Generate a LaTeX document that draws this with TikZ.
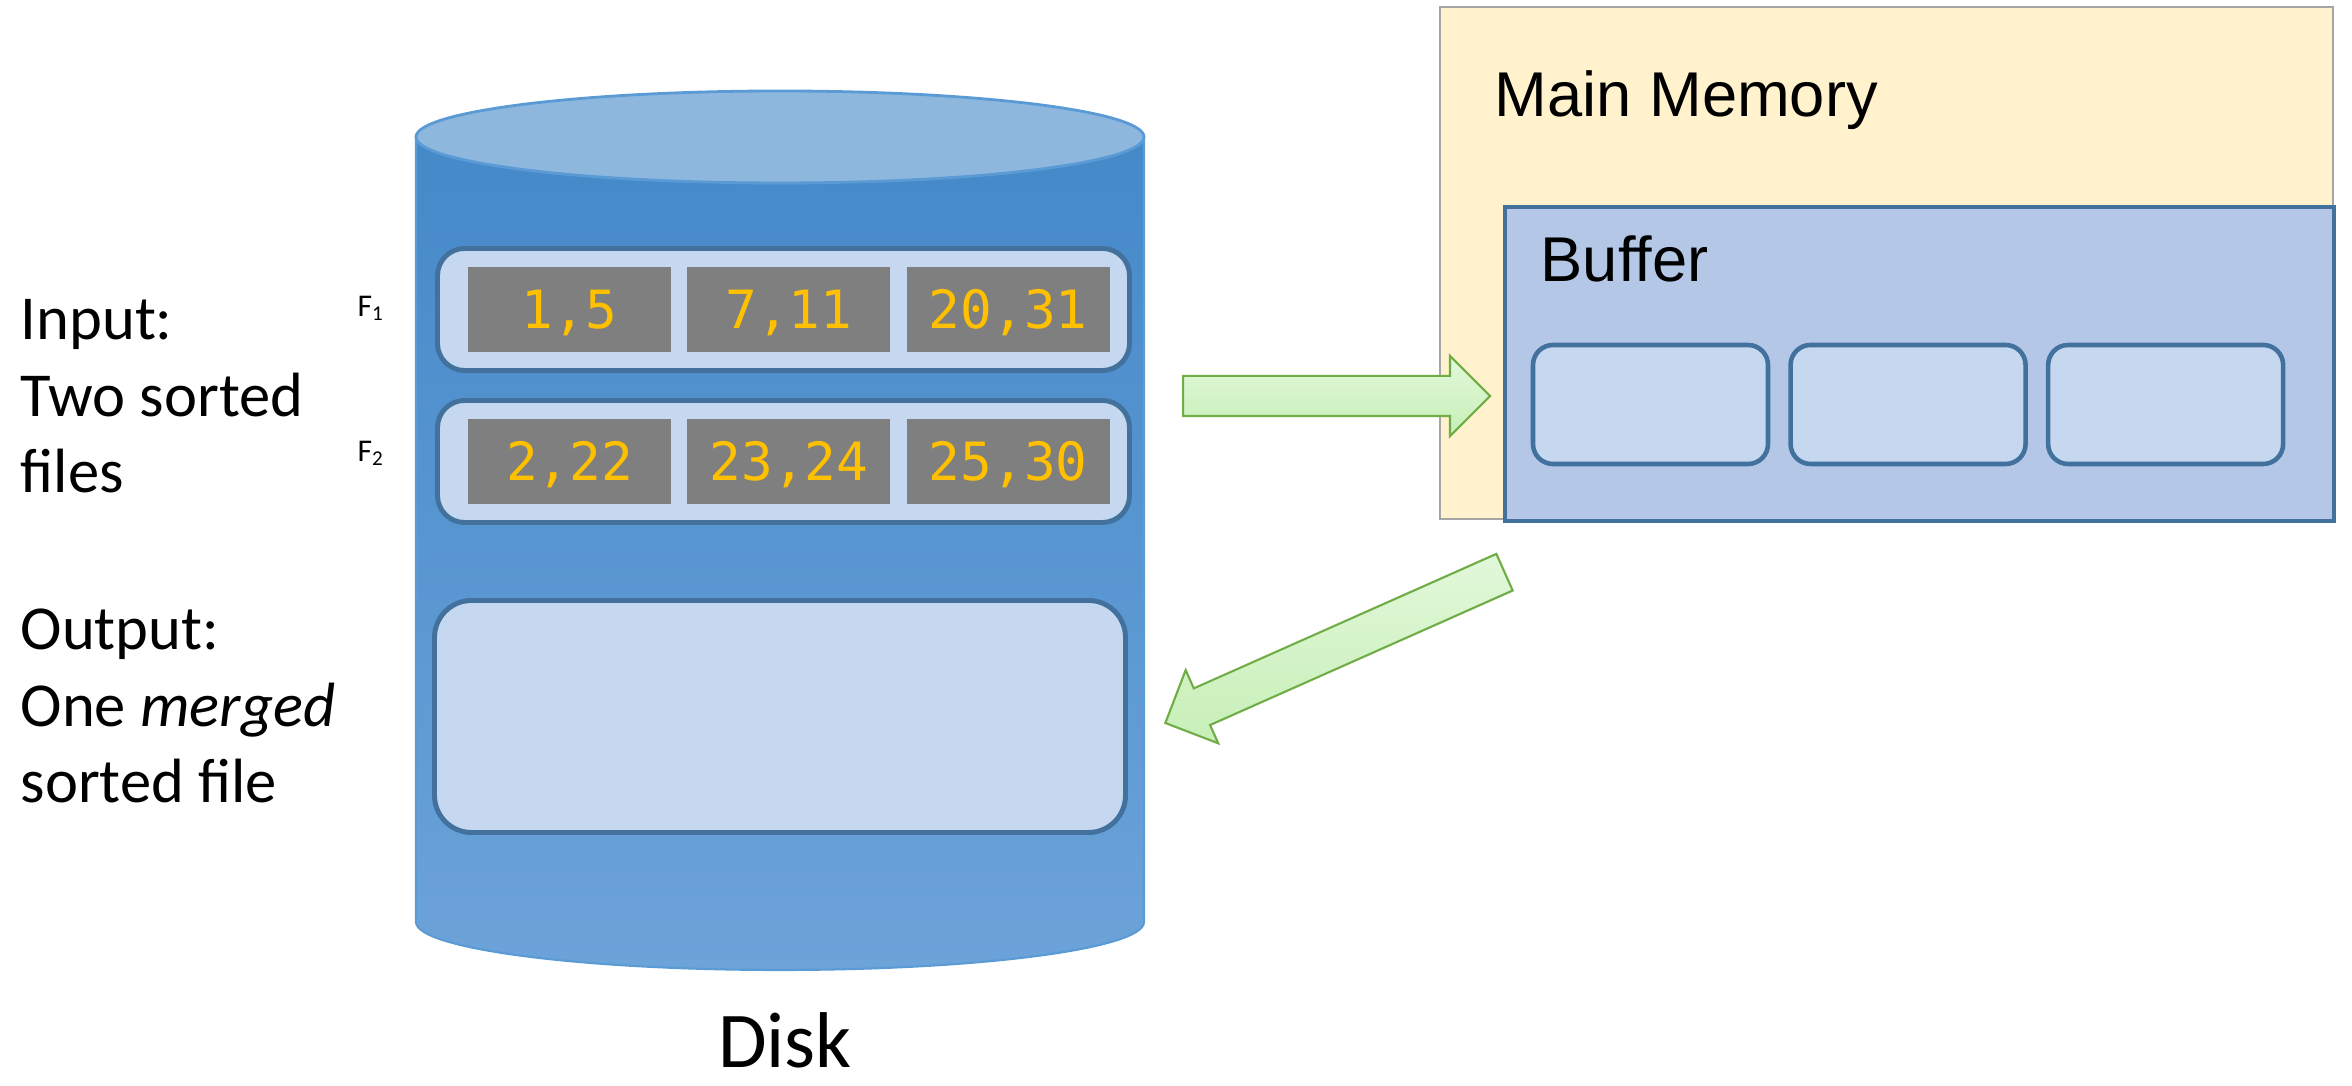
\documentclass[tikz,border=0pt]{standalone}
\usepackage{fontspec}
\setmainfont{Carlito}
\newfontfamily\arialfont{Liberation Sans}
\newfontfamily\codefont{DejaVu Sans Mono}
\usepackage{tikz}
\usetikzlibrary{arrows.meta}
\usetikzlibrary{positioning}
\usetikzlibrary{calc}
\usetikzlibrary{shapes.arrows}

\definecolor{diskTop}{HTML}{8EB7DE}
\definecolor{diskDark}{HTML}{4589C9}
\definecolor{diskLight}{HTML}{6CA3D9}
\definecolor{diskEdge}{HTML}{5B9BD5}
\definecolor{recFill}{HTML}{C5D8F0}
\definecolor{recEdge}{HTML}{41719C}
\definecolor{cellGray}{HTML}{7F7F7F}
\definecolor{numYellow}{HTML}{FFC000}
\definecolor{memFill}{HTML}{FFF2CC}
\definecolor{memEdge}{HTML}{A5A5A5}
\definecolor{bufFill}{HTML}{B4C7E7}
\definecolor{arrowEdge}{HTML}{70AD47}
\definecolor{arrowTop}{HTML}{E2F8DA}
\definecolor{arrowBot}{HTML}{C7EFB7}

\tikzset{
	record/.style={draw=recEdge, fill=recFill, line width=1.4pt, rounded corners=0.27cm, minimum width=6.92cm, minimum height=1.22cm},
	cell/.style={fill=cellGray, minimum width=2.03cm, minimum height=0.85cm, inner sep=0pt, text=numYellow, text height=0.386cm, text depth=0pt, font=\codefont\fontsize{15}{18}\selectfont},
	slot/.style={draw=recEdge, fill=recFill, line width=1.3pt, rounded corners=0.2cm, minimum width=2.35cm, minimum height=1.19cm},
	fatarrow/.style={single arrow, draw=arrowEdge, line width=0.6pt, top color=arrowTop, bottom color=arrowBot, inner sep=0.19cm, single arrow head extend=0.2cm, single arrow tip angle=90, single arrow head indent=0pt},
	sidetext/.style={align=left, inner sep=0pt, font=\fontsize{17.8}{21.8}\selectfont},
	boxtitle/.style={inner sep=0pt, font=\arialfont\fontsize{18}{21}\selectfont}
}

\newcommand{\blockarrow}[2]{%
	\path let \p1=($(#2)-(#1)$), \n1={veclen(\x1,\y1)}, \n2={atan2(\y1,\x1)} in
	(#1) node [fatarrow, minimum height=\n1, rotate=\n2, anchor=tail] {};
}

\begin{document}
\begin{tikzpicture}
	\useasboundingbox (0,0) rectangle (23.52,10.86);

	%Draw the disk
	\shade [top color=diskDark, bottom color=diskLight] (4.16,9.49) -- (4.16,1.64) arc [start angle=180, end angle=360, x radius=3.64, y radius=0.48] -- (11.44,9.49) -- cycle;
	\draw [diskEdge, line width=0.6pt] (4.16,9.49) -- (4.16,1.64) arc [start angle=180, end angle=360, x radius=3.64, y radius=0.48] -- (11.44,9.49);
	\draw [fill=diskTop, draw=diskEdge, line width=0.8pt] (7.80,9.49) ellipse [x radius=3.64, y radius=0.46];
	\node [font=\fontsize{22.5}{27}\selectfont, anchor=base, inner sep=0pt] (disk) at (7.85,0.18) {Disk};

	%File F_1
	\node [record] (f1rec) at (7.835,7.765) {};
	\node [cell] (a1) at (5.695,7.765) {1,5};
	\node [cell, right=0.15cm of a1] (a2) {7,11};
	\node [cell, right=0.15cm of a2] (a3) {20,31};
	\node [font=\fontsize{9}{11}\selectfont, anchor=base west, inner sep=0pt] (f1lbl) at (3.57,7.69) {F\textsubscript{1}};

	%File F_2
	\node [record] (f2rec) at (7.835,6.245) {};
	\node [cell] (b1) at (5.695,6.245) {2,22};
	\node [cell, right=0.15cm of b1] (b2) {23,24};
	\node [cell, right=0.15cm of b2] (b3) {25,30};
	\node [font=\fontsize{9}{11}\selectfont, anchor=base west, inner sep=0pt] (f2lbl) at (3.57,6.24) {F\textsubscript{2}};

	%Merged output file
	\node [record, rounded corners=0.37cm, minimum width=6.91cm, minimum height=2.32cm] (outrec) at (7.80,3.695) {};

	%Input and output text (base is the last line)
	\node [sidetext, anchor=base west] (inlbl) at (0.20,5.93) {Input:\\Two sorted\\files};
	\node [sidetext, anchor=base west] (outlbl) at (0.20,2.83) {Output:\\One \textit{merged}\\sorted file};

	%Main memory
	\node [draw=memEdge, fill=memFill, line width=0.6pt, minimum width=8.93cm, minimum height=5.12cm, inner sep=0pt] (mem) at (18.865,8.23) {};
	\node [boxtitle, anchor=base west] (memlbl) at (14.94,9.69) {Main Memory};

	%Buffer with three slots
	\node [draw=recEdge, fill=bufFill, line width=1.15pt, minimum width=8.29cm, minimum height=3.14cm] (buf) at (19.195,7.22) {};
	\node [boxtitle, anchor=base west] (buflbl) at (15.40,8.04) {Buffer};
	\node [slot] (s1) at (16.505,6.815) {};
	\node [slot, right=0.18cm of s1] (s2) {};
	\node [slot, right=0.18cm of s2] (s3) {};

	%Read and write arrows
	\coordinate (intail) at (11.82,6.90);
	\coordinate (intip) at (14.89,6.90);
	\coordinate (outtail) at (15.055,5.142);
	\coordinate (outtip) at (11.66,3.633);
	\blockarrow{intail}{intip}
	\blockarrow{outtail}{outtip}
\end{tikzpicture}
\end{document}
